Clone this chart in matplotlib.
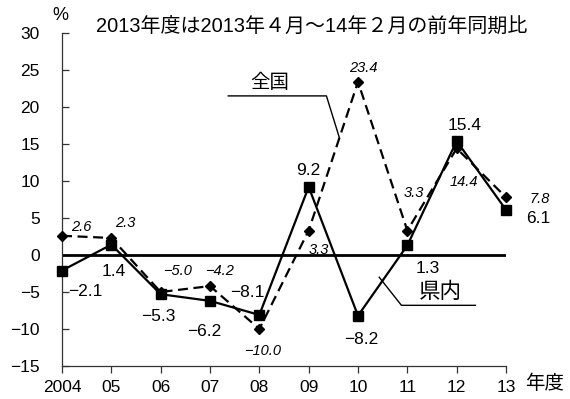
import matplotlib
matplotlib.use("Agg")
import matplotlib.pyplot as plt

plt.rcParams['font.family'] = ['Liberation Sans', 'Noto Sans CJK JP']

years = ["2004", "05", "06", "07", "08", "09", "10", "11", "12", "13"]
kennai = [-2.1, 1.4, -5.3, -6.2, -8.1, 9.2, -8.2, 1.3, 15.4, 6.1]
zenkoku = [2.6, 2.3, -5.0, -4.2, -10.0, 3.3, 23.4, 3.3, 14.4, 7.8]

# label offsets in points (dx, dy)
kennai_off = [(17, -15), (2, -19), (-2, -16), (-4, -22), (-9, 16), (0, 12),
              (2, -17), (15, -17), (6, 11), (23, -6)]
zenkoku_off = [(14, 6), (10, 11), (12, 15), (7, 11), (2, -16), (7, -14),
               (4, 10), (5, 27), (5, -24), (24, -1)]

fig = plt.figure(figsize=(5.7, 3.99), dpi=100)
ax = fig.add_axes([62 / 570, 1 - 366 / 399, (506 - 62) / 570, (366 - 33) / 399])

x = list(range(len(years)))

ax.axhline(0, color='black', lw=2.0, zorder=2)

ax.plot(x, zenkoku, color='black', lw=1.6, ls=(0, (4.5, 2.5)), marker='D',
        markersize=5.5, clip_on=False, zorder=3)
ax.plot(x, kennai, color='black', lw=1.6, ls='-', marker='s',
        markersize=7, clip_on=False, zorder=4)

for xi, v, (dx, dy) in zip(x, kennai, kennai_off):
    ax.annotate(f"{v:.1f}".replace('-', '\u2212'), (xi, v), xytext=(dx, dy),
                textcoords='offset points', ha='center', va='center',
                fontsize=12.5)
for xi, v, (dx, dy) in zip(x, zenkoku, zenkoku_off):
    ax.annotate(f"{v:.1f}".replace('-', '\u2212'), (xi, v), xytext=(dx, dy),
                textcoords='offset points', ha='center', va='center',
                fontsize=10.5, style='italic')

# callout for 全国
ax.plot([3.37, 5.36, 5.62], [21.5, 21.5, 15.9], color='black', lw=1.0,
        clip_on=False, zorder=2)
ax.text(4.22, 23.3, "全国", ha='center', va='center', fontsize=14)
# callout for 県内
ax.plot([6.43, 6.88, 8.38], [-3.0, -6.8, -6.8], color='black', lw=1.0,
        clip_on=False, zorder=2)
ax.text(7.67, -5.1, "県内", ha='center', va='center', fontsize=15.5)

ax.set_xlim(0, len(years) - 1)
ax.set_ylim(-15, 30)
ax.set_yticks(range(-15, 31, 5))
ax.set_yticklabels([str(t).replace('-', '\u2212') for t in range(-15, 31, 5)])
ax.set_xticks(x)
ax.set_xticklabels(years)

for side in ('top', 'right'):
    ax.spines[side].set_visible(False)
for side in ('left', 'bottom'):
    ax.spines[side].set_color('#333333')
    ax.spines[side].set_linewidth(0.9)

ax.tick_params(axis='y', direction='in', length=5, width=0.9, pad=16,
               labelsize=12.5, color='#333333')
ax.tick_params(axis='x', direction='out', length=5, width=0.9, pad=5,
               labelsize=12.5, color='#333333')

fig.text(96 / 570, 1 - 27 / 399, "2013年度は2013年４月～14年２月の前年同期比",
         ha='left', va='center', fontsize=14.4)
fig.text(60 / 570, 1 - 15 / 399, "%", ha='center', va='center', fontsize=13)
fig.text(545 / 570, 1 - 384 / 399, "年度", ha='center', va='center',
         fontsize=14)

fig.savefig("out.png", dpi=100)
